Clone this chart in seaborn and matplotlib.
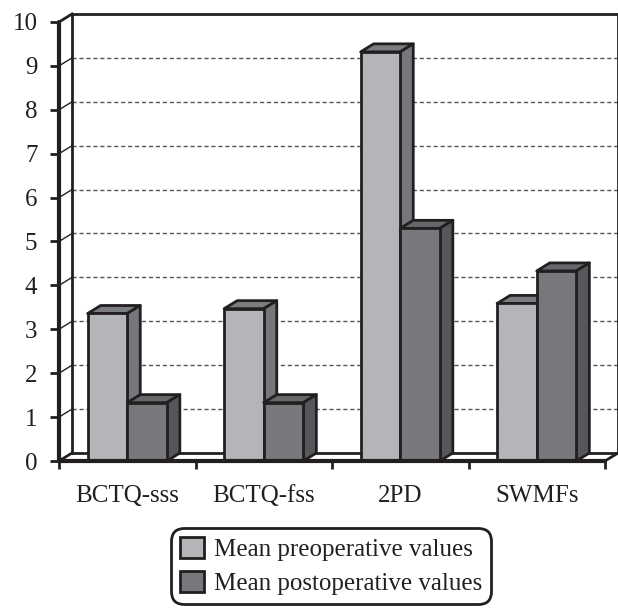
"""Pre/post operative means as Excel-style 3D columns."""

import pandas as pd
import matplotlib
matplotlib.use("Agg")
import matplotlib.pyplot as plt
from matplotlib.patches import Polygon
import seaborn as sns

categories = ["BCTQ-sss", "BCTQ-fss", "2PD", "SWMFs"]
series = ["Mean preoperative values", "Mean postoperative values"]
pre_values = [3.36, 3.47, 9.32, 3.59]
post_values = [1.33, 1.33, 5.30, 4.33]

front_colors = ["#b4b5b9", "#77787c"]
top_colors = ["#7c7d81", "#67686c"]
side_colors = ["#76777b", "#56575b"]
ink = "#231f20"

df = pd.DataFrame({
    "category": categories * 2,
    "value": pre_values + post_values,
    "series": [series[0]] * 4 + [series[1]] * 4,
})

sns.set_style("white")
plt.rcParams["font.family"] = ["Liberation Serif", "DejaVu Serif"]

fig = plt.figure(figsize=(6.18, 6.09), dpi=100)
ax = fig.add_axes([59 / 618, 1 - 461 / 609, (605 - 59) / 618, (461 - 22) / 609])

sns.barplot(data=df, x="category", y="value", hue="series", order=categories,
            hue_order=series, palette=front_colors, width=0.58, gap=0,
            edgecolor=ink, linewidth=2, saturation=1, legend=True, ax=ax)

ax.set_xlim(-0.5, 3.5)
ax.set_ylim(0, 10)

# depth offset of the 3D box, in data units
dx, dy = 13 / 136.5, 8 / 43.9

# back wall, side wall and floor
wall = dict(color=ink, lw=2, clip_on=False, zorder=1, solid_capstyle="projecting")
for v in range(1, 10):
    ax.plot([-0.5 + dx, 3.5 + dx], [v + dy, v + dy], ls=(0, (3, 2)), lw=1,
            color="#555555", clip_on=False, zorder=1)
    ax.plot([-0.5, -0.5 + dx], [v, v + dy], color=ink, lw=1, clip_on=False, zorder=1)
ax.plot([-0.5 + dx, -0.5 + dx], [dy, 10 + dy], **wall)
ax.plot([-0.5 + dx, 3.5 + dx], [10 + dy, 10 + dy], **wall)
ax.plot([3.5 + dx, 3.5 + dx], [dy, 10 + dy], **wall)
ax.plot([-0.5 + dx, 3.5 + dx], [dy, dy], **wall)
ax.plot([-0.5, -0.5 + dx], [10, 10 + dy], **wall)
ax.plot([-0.5, -0.5 + dx], [0, dy], **wall)
ax.plot([3.5, 3.5 + dx], [0, dy], **wall)

# extrude each bar
for i, cont in enumerate(ax.containers):
    for bar in cont:
        x0, w, h = bar.get_x(), bar.get_width(), bar.get_height()
        z = 3 + i * 2
        bar.set_zorder(z + 1)
        top = [(x0, h), (x0 + w, h), (x0 + w + dx, h + dy), (x0 + dx, h + dy)]
        side = [(x0 + w, 0), (x0 + w + dx, dy), (x0 + w + dx, h + dy), (x0 + w, h)]
        ax.add_patch(Polygon(top, closed=True, fc=top_colors[i], ec=ink, lw=2,
                             joinstyle="round", zorder=z))
        ax.add_patch(Polygon(side, closed=True, fc=side_colors[i], ec=ink, lw=2,
                             joinstyle="round", zorder=z))

# front axis and floor edge
ax.plot([-0.5, -0.5], [0, 10], color=ink, lw=3, clip_on=False, zorder=20)
ax.plot([-0.5, 3.5], [0, 0], color=ink, lw=3, clip_on=False, zorder=20)

sns.despine(ax=ax, left=True, bottom=True)
ax.set_yticks(range(0, 11))
ax.tick_params(axis="y", direction="out", length=6.5, width=2, color=ink,
               pad=9, labelsize=18, labelcolor=ink, left=True)
ax.set_xticks([-0.5, 0.5, 1.5, 2.5, 3.5])
ax.set_xticklabels([])
ax.set_xticks(range(len(categories)), categories, minor=True)
ax.tick_params(axis="x", which="major", direction="out", length=6, width=2,
               color=ink, bottom=True)
ax.tick_params(axis="x", which="minor", length=0, pad=17, labelsize=18,
               labelcolor=ink)
ax.set_xlabel("")
ax.set_ylabel("")
ax.grid(False)

handles, labels = ax.get_legend_handles_labels()
ax.get_legend().remove()
for hnd in handles:
    hnd.set_edgecolor(ink)
    hnd.set_linewidth(2)
leg = fig.legend(handles, labels, loc="upper center", bbox_to_anchor=(0.536, 0.133),
                 borderaxespad=0, fontsize=18, frameon=True, fancybox=True,
                 framealpha=1, handlelength=0.95, handleheight=0.9,
                 handletextpad=0.4, labelspacing=0.4, borderpad=0.35,
                 labelcolor=ink)
leg.get_frame().set_edgecolor(ink)
leg.get_frame().set_linewidth(2)
leg.get_frame().set_boxstyle("round", pad=0, rounding_size=0.5)

fig.savefig("out.png", dpi=100)
